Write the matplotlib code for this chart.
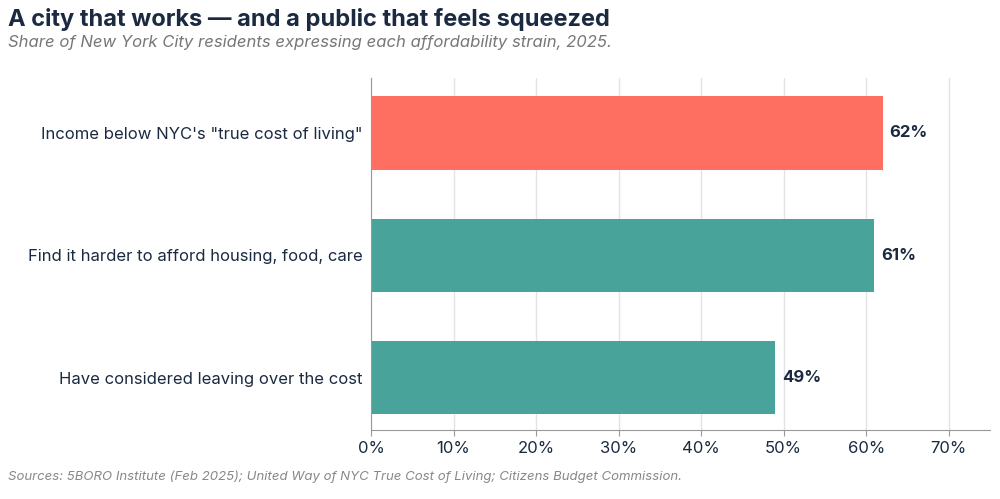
import matplotlib
matplotlib.use("Agg")
import matplotlib.pyplot as plt
from matplotlib.ticker import FuncFormatter

plt.rcParams["font.family"] = ["Inter", "DejaVu Sans"]

labels = [
    'Income below NYC\'s "true cost of living"',
    "Find it harder to afford housing, food, care",
    "Have considered leaving over the cost",
]
values = [62, 61, 49]
colors = ["#FF6F61", "#48A39A", "#48A39A"]

navy = "#1B2A41"
fig = plt.figure(figsize=(10, 4.99), dpi=100)
ax = fig.add_axes([0.371, 0.138, 0.619, 0.706])

ypos = range(len(values))
ax.barh(ypos, values, height=0.6, color=colors, zorder=2)
for y, v in zip(ypos, values):
    ax.text(v + 0.8, y, f"{v}%", va="center", ha="left", fontsize=12,
            fontweight="bold", color=navy)

ax.set_yticks(list(ypos))
ax.set_yticklabels(labels, fontsize=12, color=navy)
ax.set_ylim(2.43, -0.45)
ax.set_xlim(0, 75)
ax.set_xticks(range(0, 80, 10))
ax.xaxis.set_major_formatter(FuncFormatter(lambda x, _: f"{x:.0f}%"))
ax.tick_params(axis="x", labelsize=12, colors=navy, length=4, color="#999999")
ax.tick_params(axis="y", length=0, pad=6)
ax.grid(axis="x", color="#E3E3E3", linewidth=1, zorder=0)
for s in ["top", "right"]:
    ax.spines[s].set_visible(False)
for s in ["left", "bottom"]:
    ax.spines[s].set_color("#999999")

fig.text(0.008, 0.96, "A city that works — and a public that feels squeezed",
         fontsize=17, fontweight="bold", color=navy, va="center")
fig.text(0.008, 0.915, "Share of New York City residents expressing each affordability strain, 2025.",
         fontsize=12, style="italic", color="#777777", va="center")
fig.text(0.008, 0.045, "Sources: 5BORO Institute (Feb 2025); United Way of NYC True Cost of Living; Citizens Budget Commission.",
         fontsize=9.5, style="italic", color="#888888", va="center")

fig.savefig("out.png", dpi=100)
